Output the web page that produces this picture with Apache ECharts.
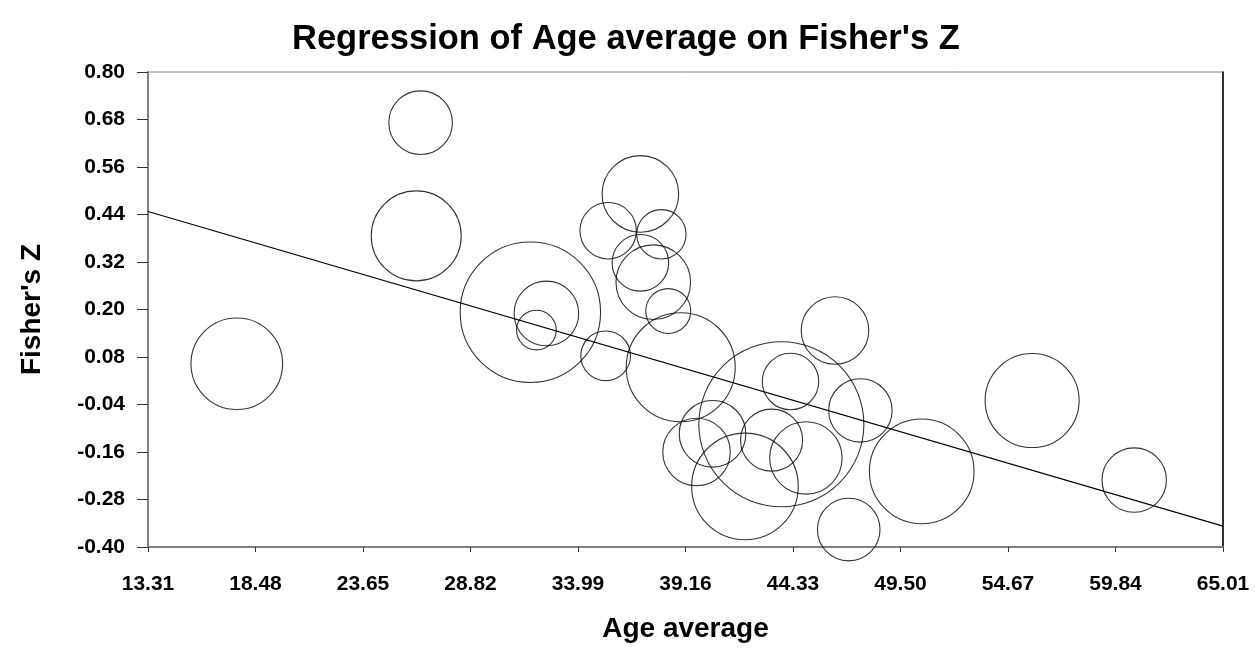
<!DOCTYPE html>
<html>
<head>
<meta charset="utf-8">
<script src="https://cdn.jsdelivr.net/npm/echarts@6/dist/echarts.min.js"></script>
<style>
html,body{margin:0;padding:0;background:#fff;}
#chart{width:1255px;height:653px;}
</style>
</head>
<body>
<div id="chart"></div>
<script>
// Study-level data (Age average, Fisher's Z, relative weight %)
const ageAverage = [17.58, 26.42, 26.21, 31.70, 32.47, 31.99, 35.32, 35.44, 36.99, 38.00, 36.99, 37.61, 38.33, 38.93, 43.77, 39.69, 40.46, 42.02, 43.30, 44.21, 44.95, 46.35, 47.57, 47.01, 50.52, 55.83, 60.74];
const fishersZ   = [0.063, 0.672, 0.386, 0.193, 0.190, 0.148, 0.083, 0.399, 0.492, 0.390, 0.318, 0.269, 0.196, 0.054, -0.090, -0.160, -0.114, -0.247, -0.130, 0.018, -0.175, 0.147, -0.055, -0.356, -0.209, -0.030, -0.231];
const weights    = [4.69, 2.26, 4.53, 11.02, 2.33, 0.88, 1.38, 1.78, 3.28, 1.36, 1.79, 3.11, 1.13, 6.64, 15.22, 2.55, 2.48, 6.35, 2.15, 1.78, 2.93, 2.55, 2.25, 2.19, 6.12, 4.94, 2.32];

// Regression line
const regIntercept = 0.652;
const regSlope = -0.01537;

// Axis ticks
const xTicks = [13.31, 18.48, 23.65, 28.82, 33.99, 39.16, 44.33, 49.50, 54.67, 59.84, 65.01];
const yTicks = [-0.40, -0.28, -0.16, -0.04, 0.08, 0.20, 0.32, 0.44, 0.56, 0.68, 0.80];

const xMin = xTicks[0], xMax = xTicks[xTicks.length - 1];
const yMin = yTicks[0], yMax = yTicks[yTicks.length - 1];

const points = ageAverage.map((x, i) => [x, fishersZ[i], weights[i]]);
const regLine = [[xMin, regIntercept + regSlope * xMin], [xMax, regIntercept + regSlope * xMax]];

const FONT = '"Liberation Sans", Arial, Helvetica, sans-serif';
const chart = echarts.init(document.getElementById('chart'));
chart.setOption({
  backgroundColor: '#fff',
  animation: false,
  title: {
    text: "Regression of Age average on Fisher's Z",
    left: 287,
    top: 17,
    textStyle: { fontFamily: FONT, fontSize: 34.5, fontWeight: 'bold', color: '#000' }
  },
  grid: {
    left: 148, right: 32, top: 72, bottom: 106,
    show: true, borderColor: '#808080', borderWidth: 1
  },
  xAxis: {
    type: 'value',
    min: xMin, max: xMax,
    name: 'Age average',
    nameLocation: 'middle',
    nameGap: 68,
    nameTextStyle: { fontFamily: FONT, fontSize: 28, fontWeight: 'bold', color: '#000' },
    splitLine: { show: false },
    axisLine: { show: true, onZero: false, lineStyle: { color: '#808080', width: 2 } },
    axisTick: { show: true, inside: false, length: 5, customValues: xTicks, lineStyle: { color: '#333', width: 1 } },
    axisLabel: {
      customValues: xTicks, margin: 27,
      fontFamily: FONT, fontSize: 21, fontWeight: 'bold', color: '#000',
      formatter: v => Number(v).toFixed(2)
    }
  },
  yAxis: [{
    type: 'value',
    min: yMin, max: yMax,
    name: "Fisher's Z",
    nameLocation: 'middle',
    nameGap: 102,
    nameTextStyle: { fontFamily: FONT, fontSize: 28, fontWeight: 'bold', color: '#000' },
    splitLine: { show: false },
    axisLine: { show: true, onZero: false, lineStyle: { color: '#808080', width: 2 } },
    axisTick: { show: true, inside: false, length: 11, customValues: yTicks, lineStyle: { color: '#333', width: 1 } },
    axisLabel: {
      customValues: yTicks, margin: 23,
      fontFamily: FONT, fontSize: 21, fontWeight: 'bold', color: '#000',
      formatter: v => Number(v).toFixed(2)
    }
  }, {
    type: 'value',
    position: 'right',
    min: yMin, max: yMax,
    splitLine: { show: false },
    axisLine: { show: true, onZero: false, lineStyle: { color: '#000', width: 1.5 } },
    axisTick: { show: false },
    axisLabel: { show: false }
  }],
  series: [{
    type: 'scatter',
    clip: false,
    data: points,
    symbol: 'circle',
    symbolSize: d => 42.3 * Math.sqrt(d[2]),
    itemStyle: { color: 'rgba(0,0,0,0)', borderColor: '#000', borderWidth: 1.1 },
    emphasis: { disabled: true },
    z: 3
  }, {
    type: 'line',
    data: regLine,
    symbol: 'none',
    lineStyle: { color: '#000', width: 1.1 },
    z: 2
  }]
});
</script>
</body>
</html>
